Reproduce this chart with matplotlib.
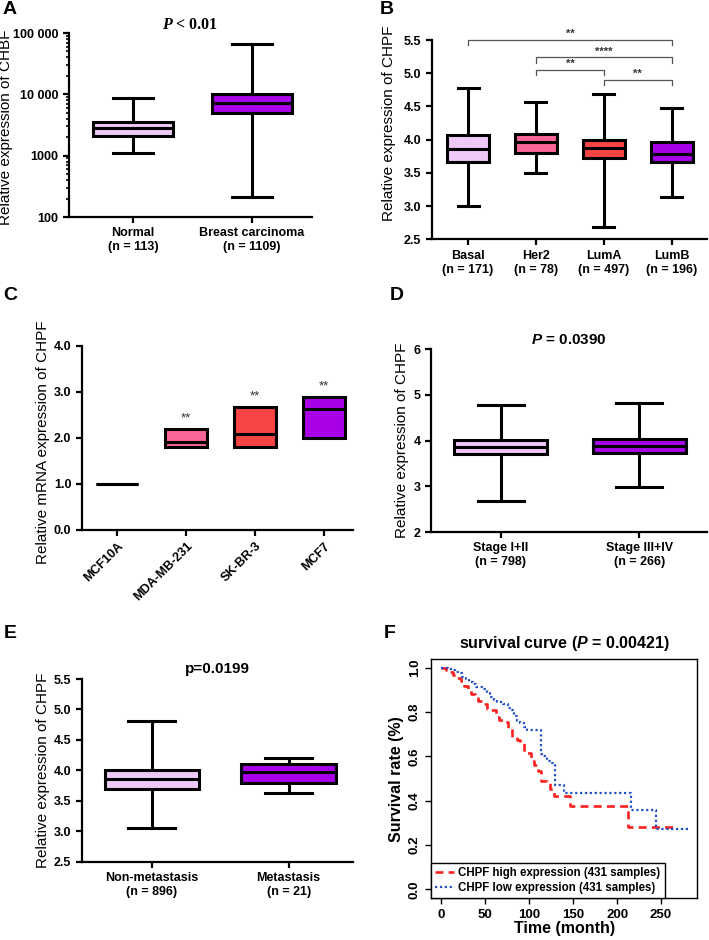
import matplotlib
matplotlib.use('Agg')
import matplotlib.pyplot as plt
from matplotlib.ticker import LogLocator, NullFormatter
from matplotlib.lines import Line2D

plt.rcParams['font.family'] = 'Liberation Sans'
plt.rcParams['mathtext.fontset'] = 'custom'
plt.rcParams['mathtext.it'] = 'Liberation Sans:italic:bold'
plt.rcParams['mathtext.bf'] = 'Liberation Serif:italic:bold'

# ---- data ----
# A: CHBF expression, normal vs tumour (log scale)
a_labels = ['Normal\n(n = 113)', 'Breast carcinoma\n(n = 1109)']
a_whislo = [1110, 215]
a_q1 = [2090, 4900]
a_med = [2850, 7200]
a_q3 = [3570, 10000]
a_whishi = [8800, 65000]

# B: PAM50 subtypes
b_labels = ['Basal\n(n = 171)', 'Her2\n(n = 78)', 'LumA\n(n = 497)', 'LumB\n(n = 196)']
b_whislo = [3.00, 3.50, 2.68, 3.14]
b_q1 = [3.67, 3.80, 3.73, 3.66]
b_med = [3.86, 3.96, 3.88, 3.78]
b_q3 = [4.07, 4.09, 4.00, 3.96]
b_whishi = [4.78, 4.57, 4.69, 4.47]
b_sig_pairs = [(1, 4), (2, 4), (2, 3), (3, 4)]
b_sig_y = [5.5, 5.24, 5.05, 4.9]
b_sig_text = ['**', '****', '**', '**']

# C: cell lines (min / median / max)
c_labels = ['MCF10A', 'MDA-MB-231', 'SK-BR-3', 'MCF7']
c_low = [1.0, 1.80, 1.81, 1.99]
c_med = [1.0, 1.90, 2.09, 2.63]
c_high = [1.0, 2.19, 2.68, 2.88]
c_stars = ['', '**', '**', '**']

# D: stage
d_labels = ['Stage I+II\n(n = 798)', 'Stage III+IV\n(n = 266)']
d_whislo = [2.68, 2.99]
d_q1 = [3.70, 3.73]
d_med = [3.865, 3.88]
d_q3 = [4.01, 4.04]
d_whishi = [4.78, 4.81]

# E: metastasis
e_labels = ['Non-metastasis\n(n = 896)', 'Metastasis\n(n = 21)']
e_whislo = [3.06, 3.63]
e_q1 = [3.70, 3.79]
e_med = [3.86, 3.98]
e_q3 = [4.00, 4.11]
e_whishi = [4.81, 4.21]

# F: Kaplan-Meier steps
high_t = [0, 6, 10, 14, 18, 22, 26, 30, 34, 38, 42, 46, 52, 56, 62, 66, 72, 76, 80, 86,
          90, 94, 98, 102, 106, 110, 114, 120, 124, 128, 147, 212, 265]
high_s = [1.00, 0.99, 0.98, 0.97, 0.955, 0.94, 0.92, 0.90, 0.88, 0.865, 0.85, 0.835, 0.815,
          0.81, 0.78, 0.765, 0.755, 0.72, 0.69, 0.675, 0.66, 0.63, 0.615, 0.58, 0.56, 0.535,
          0.49, 0.485, 0.455, 0.42, 0.375, 0.28, 0.28]
low_t = [0, 8, 12, 16, 20, 24, 28, 32, 36, 40, 48, 52, 56, 60, 64, 70, 76, 80, 83, 86, 90,
         94, 98, 113, 116, 120, 126, 129, 140, 216, 244, 281]
low_s = [1.00, 0.995, 0.99, 0.98, 0.975, 0.96, 0.95, 0.935, 0.925, 0.915, 0.905, 0.885, 0.87,
         0.855, 0.845, 0.835, 0.82, 0.81, 0.785, 0.76, 0.75, 0.735, 0.72, 0.61, 0.60, 0.58,
         0.57, 0.47, 0.435, 0.36, 0.275, 0.275]

col_light = '#EEC8F6'
col_pink = '#FA6496'
col_red = '#F84444'
col_purple = '#A800E8'

W, H = 709, 940
fig = plt.figure(figsize=(W / 100, H / 100), dpi=100)


def px_axes(left, top, right, bottom):
    return fig.add_axes([left / W, 1 - bottom / H, (right - left) / W, (bottom - top) / H])


def style(ax):
    for s in ['top', 'right']:
        ax.spines[s].set_visible(False)
    for s in ['left', 'bottom']:
        ax.spines[s].set_linewidth(1.6)
    ax.tick_params(direction='out', width=1.6, length=4, labelsize=9)
    for lab in ax.get_xticklabels() + ax.get_yticklabels():
        lab.set_fontweight('bold')


def boxes(ax, whislo, q1, med, q3, whishi, colors, width, caps=True):
    stats = [dict(med=m, q1=a, q3=b, whislo=lo, whishi=hi, fliers=[])
             for lo, a, m, b, hi in zip(whislo, q1, med, q3, whishi)]
    lw = 2.2
    bp = ax.bxp(stats, positions=range(1, len(stats) + 1), widths=width, patch_artist=True,
                showfliers=False, showcaps=caps,
                boxprops=dict(linewidth=lw, edgecolor='black'),
                medianprops=dict(color='black', linewidth=lw),
                whiskerprops=dict(linewidth=lw), capprops=dict(linewidth=lw))
    for patch, c in zip(bp['boxes'], colors):
        patch.set_facecolor(c)
    return bp


# ---- A ----
axA = px_axes(69, 33, 312, 217)
boxes(axA, a_whislo, a_q1, a_med, a_q3, a_whishi, [col_light, col_purple], 0.68)
axA.set_yscale('log')
axA.set_ylim(100, 100000)
axA.set_xlim(0.462, 2.504)
axA.set_yticks([100, 1000, 10000, 100000], ['100', '1000', '10 000', '100 000'])
axA.yaxis.set_minor_locator(LogLocator(base=10, subs=range(2, 10)))
axA.yaxis.set_minor_formatter(NullFormatter())
axA.set_xticks([1, 2], a_labels)
axA.set_ylabel('Relative expression of CHBF', fontsize=11)
axA.yaxis.set_label_coords(-0.23, 0.49)
style(axA)
axA.tick_params(which='minor', width=1.2, length=2.5)
axA.text(0.5, 1.043, r'$\mathbf{P}$ < 0.01', transform=axA.transAxes, ha='center', va='center',
         family='Liberation Serif', fontweight='bold', fontsize=11.5)

# ---- B ----
axB = px_axes(431.7, 40, 707, 239.3)
boxes(axB, b_whislo, b_q1, b_med, b_q3, b_whishi, [col_light, col_pink, col_red, col_purple], 0.62)
axB.set_ylim(2.5, 5.5)
axB.set_xlim(0.464, 4.52)
axB.set_yticks([2.5, 3.0, 3.5, 4.0, 4.5, 5.0, 5.5], ['2.5', '3.0', '3.5', '4.0', '4.5', '5.0', '5.5'])
axB.set_xticks([1, 2, 3, 4], b_labels)
axB.set_ylabel('Relative expression of CHPF', fontsize=11)
axB.yaxis.set_label_coords(-0.13, 0.58)
style(axB)
for (i, j), y, t in zip(b_sig_pairs, b_sig_y, b_sig_text):
    axB.plot([i, i, j, j], [y - 0.08, y, y, y - 0.08], color='#555555', lw=0.9, clip_on=False)
    axB.text((i + j) / 2, y + 0.01, t, ha='center', va='bottom', fontsize=8, color='#333333',
             fontweight='bold')

# ---- C ----
axC = px_axes(81.7, 346, 353, 529.7)
boxes(axC, c_low, c_low, c_med, c_high, c_high, ['white', col_pink, col_red, col_purple], 0.61,
      caps=False)
axC.set_ylim(0, 4)
axC.set_xlim(0.488, 4.42)
axC.set_yticks([0, 1, 2, 3, 4], ['0.0', '1.0', '2.0', '3.0', '4.0'])
axC.set_xticks([1, 2, 3, 4], c_labels)
axC.set_ylabel('Relative mRNA expression of CHPF', fontsize=11)
axC.yaxis.set_label_coords(-0.117, 0.477)
style(axC)
for lab in axC.get_xticklabels():
    lab.set_rotation(45)
    lab.set_ha('right')
    lab.set_rotation_mode('anchor')
for k, s in enumerate(c_stars):
    axC.text(k + 1, c_high[k] + 0.1, s, ha='center', va='bottom', fontsize=9.5, color='#333333')

# ---- D ----
axD = px_axes(431.3, 349, 707, 532)
boxes(axD, d_whislo, d_q1, d_med, d_q3, d_whishi, [col_light, col_purple], 0.67)
axD.set_ylim(2, 6)
axD.set_xlim(0.498, 2.49)
axD.set_yticks([2, 3, 4, 5, 6])
axD.set_xticks([1, 2], d_labels)
axD.set_ylabel('Relative expression of CHPF', fontsize=11)
axD.yaxis.set_label_coords(-0.081, 0.5)
style(axD)
axD.text(0.5, 1.049, '$P$ = 0.0390', transform=axD.transAxes, ha='center', va='center',
         fontweight='bold', fontsize=11)

# ---- E ----
axE = px_axes(81.7, 679, 353, 861.7)
boxes(axE, e_whislo, e_q1, e_med, e_q3, e_whishi, [col_light, col_purple], 0.69)
axE.set_ylim(2.5, 5.5)
axE.set_xlim(0.4875, 2.47)
axE.set_yticks([2.5, 3.0, 3.5, 4.0, 4.5, 5.0, 5.5], ['2.5', '3.0', '3.5', '4.0', '4.5', '5.0', '5.5'])
axE.set_xticks([1, 2], e_labels)
axE.set_ylabel('Relative expression of CHPF', fontsize=11)
axE.yaxis.set_label_coords(-0.117, 0.5)
style(axE)
axE.text(0.5, 1.055, 'p=0.0199', transform=axE.transAxes, ha='center', va='center',
         fontweight='bold', fontsize=11)

# ---- F ----
axF = px_axes(431.3, 659, 697.3, 898.3)
axF.step(high_t, high_s, where='post', color='#FF2020', lw=1.9, ls=(0, (3, 2)))
axF.step(low_t, low_s, where='post', color='#2050C8', lw=1.6, ls=(0, (1, 1.2)))
axF.set_xlim(-11.2, 291.2)
axF.set_ylim(-0.04, 1.04)
axF.set_xticks([0, 50, 100, 150, 200, 250])
axF.set_yticks([0.0, 0.2, 0.4, 0.6, 0.8, 1.0], ['0.0', '0.2', '0.4', '0.6', '0.8', '1.0'])
for s in axF.spines.values():
    s.set_linewidth(1.0)
axF.tick_params(direction='out', width=1.0, length=4, labelsize=9.5)
for lab in axF.get_xticklabels() + axF.get_yticklabels():
    lab.set_fontweight('bold')
for lab in axF.get_yticklabels():
    lab.set_rotation(90)
    lab.set_va('center')
axF.set_xlabel('Time (month)', fontsize=11.5, fontweight='bold', labelpad=0)
axF.set_ylabel('Survival rate (%)', fontsize=11.5, fontweight='bold')
axF.yaxis.set_label_coords(-0.103, 0.5)
axF.set_title('survival curve ($P$ = 0.00421)', fontsize=11.5, fontweight='bold', pad=8)
handles = [Line2D([], [], color='#FF2020', lw=1.9, ls=(0, (3, 2))),
           Line2D([], [], color='#2050C8', lw=1.6, ls=(0, (1, 1.2)))]
leg = axF.legend(handles, ['CHPF high expression (431 samples)', 'CHPF low expression (431 samples)'],
                 loc='lower left', borderaxespad=0, fancybox=False, edgecolor='black',
                 prop=dict(weight='bold', size=8.3), handlelength=1.6, handletextpad=0.4,
                 borderpad=0.35, labelspacing=0.25, framealpha=1)
leg.get_frame().set_linewidth(1.0)

# panel letters
for letter, x, y in [('A', 10, 9), ('B', 387, 9), ('C', 10, 296), ('D', 397, 296),
                     ('E', 10, 634), ('F', 390, 634)]:
    fig.text(x / W, 1 - y / H, letter, ha='center', va='center', fontsize=14, fontweight='bold')

fig.savefig('out.png', dpi=100)
